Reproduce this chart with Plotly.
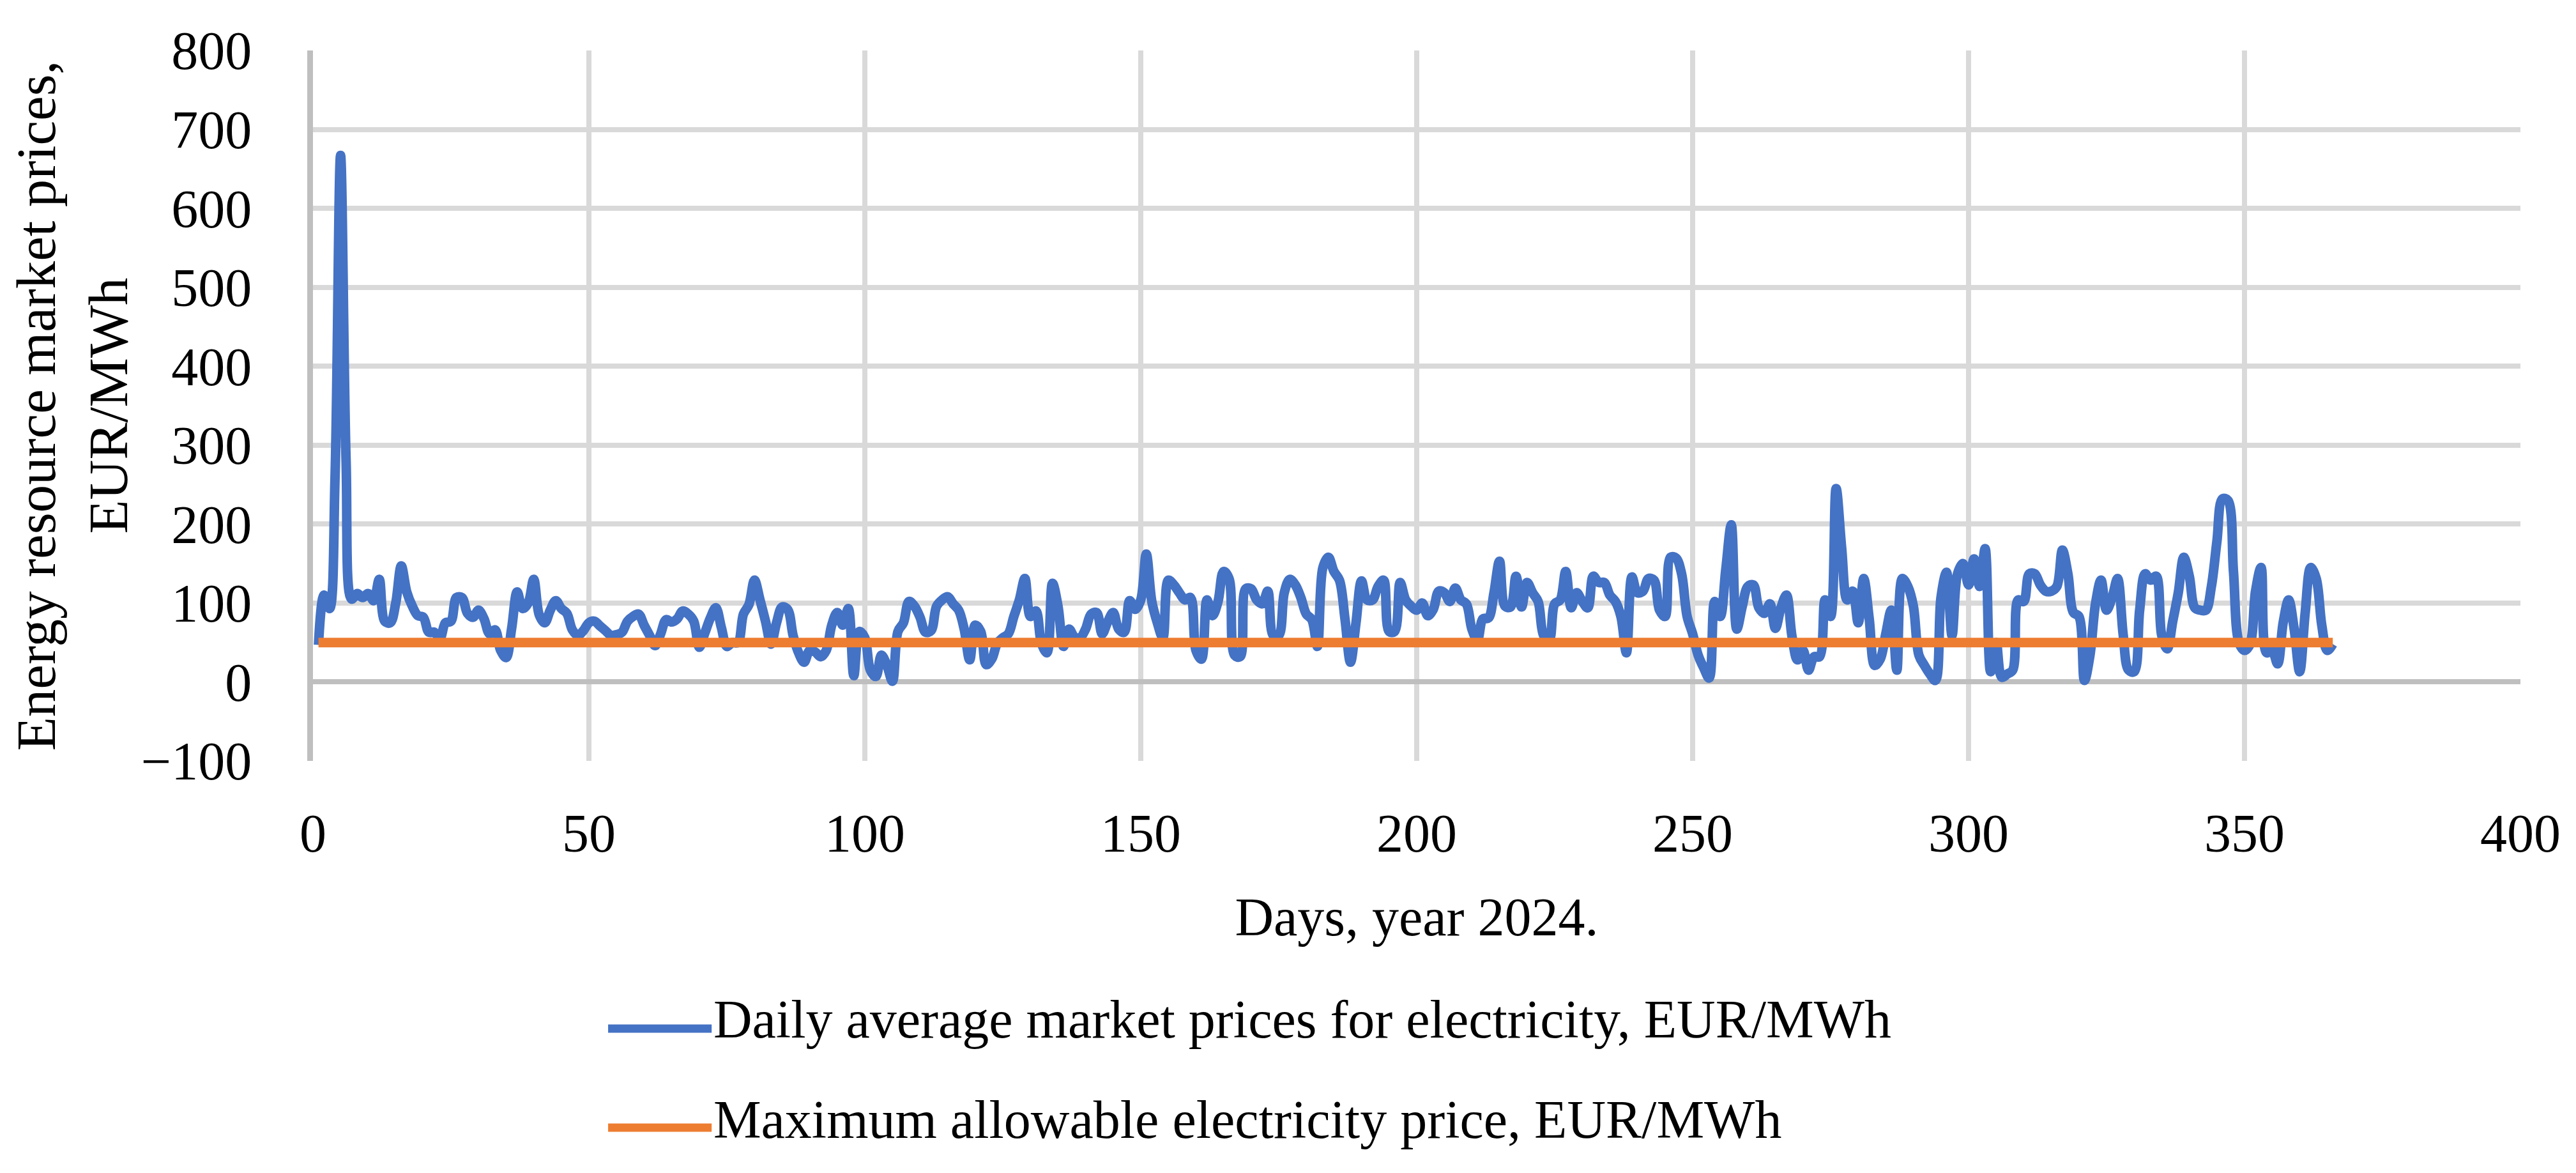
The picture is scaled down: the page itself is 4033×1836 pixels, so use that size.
import plotly.graph_objects as go

# ---------------- data ----------------
days = list(range(1, 367))

daily_prices = [
    47, 110, 93, 260, 667, 280, 105, 112, 107, 112,        # 1-10
    103, 130, 77, 75, 100, 147, 114, 96, 84, 82,           # 11-20
    63, 63, 55, 75, 77, 107, 107, 87, 82, 91,              # 21-30
    80, 61, 66, 40, 31, 68, 114, 93, 100, 130,             # 31-40
    85, 75, 91, 103, 93, 87, 66, 59, 65, 75,               # 41-50
    77, 71, 65, 59, 60, 63, 77, 83, 86, 72,                # 51-60
    59, 46, 61, 79, 76, 80, 90, 86, 77, 44,                # 61-70
    62, 81, 94, 69, 45, 50, 50, 86, 98, 129,               # 71-80
    104, 77, 48, 75, 95, 92, 59, 37, 25, 40,               # 81-90
    38, 32, 40, 72, 88, 72, 93, 8, 64, 56,                 # 91-100
    15, 7, 34, 21, 1, 64, 75, 102, 96, 82,                 # 101-110
    63, 65, 96, 104, 108, 99, 91, 67, 28, 72,              # 111-120
    64, 22, 29, 49, 56, 61, 83, 104, 131, 83,              # 121-130
    90, 49, 37, 125, 96, 45, 67, 57, 56, 67,               # 131-140
    86, 88, 61, 76, 88, 67, 63, 103, 92, 104,              # 141-150
    162, 102, 75, 56, 129, 123, 113, 104, 107, 40,         # 151-160
    29, 104, 84, 102, 140, 131, 34, 32, 118, 118,          # 161-170
    104, 99, 115, 59, 59, 113, 130, 123, 107, 86,          # 171-180
    79, 45, 145, 158, 140, 129, 80, 25, 75, 128,           # 181-190
    104, 104, 121, 129, 64, 64, 126, 104, 96, 91,          # 191-200
    100, 84, 92, 115, 113, 102, 119, 104, 99, 67,          # 201-210
    53, 80, 81, 113, 153, 96, 95, 134, 95, 126,            # 211-220
    113, 102, 59, 53, 99, 104, 140, 94, 113, 102,          # 221-230
    94, 134, 126, 126, 110, 102, 83, 37, 133, 113,         # 231-240
    115, 131, 129, 91, 83, 158, 157, 137, 83, 61,          # 241-250
    34, 18, 5, 102, 83, 142, 199, 67, 96, 121,             # 251-260
    123, 94, 87, 99, 68, 94, 110, 58, 28, 40,              # 261-270
    15, 32, 32, 104, 83, 245, 170, 104, 115, 75,           # 271-280
    131, 80, 21, 29, 61, 91, 15, 131, 121, 96,             # 281-290
    34, 21, 10, 2, 107, 139, 59, 137, 150, 123,            # 291-300
    156, 121, 169, 13, 50, 6, 10, 15, 104, 102,            # 301-310
    137, 137, 123, 115, 115, 121, 167, 137, 88, 83,        # 311-320
    2, 34, 99, 129, 91, 107, 131, 61, 15, 13,              # 321-330
    91, 137, 129, 134, 59, 42, 77, 113, 158, 134,          # 331-340
    94, 91, 91, 121, 178, 232, 230, 140, 50, 40,           # 341-350
    48, 115, 145, 37, 40, 23, 75, 104, 67, 13,             # 351-360
    88, 145, 131, 72, 40, 48,                              # 361-366
]

max_allowable_price = 50
max_price_series = [max_allowable_price for _ in days]

x_tick_values = [0, 50, 100, 150, 200, 250, 300, 350, 400]
y_tick_values = [-100, 0, 100, 200, 300, 400, 500, 600, 700, 800]

series_names = [
    "Daily average market prices for electricity, EUR/MWh",
    "Maximum allowable electricity price, EUR/MWh",
]
series_colors = ["#4472C4", "#ED7D31"]
x_title = "Days, year 2024."
y_title = "Energy resource market prices,<br>EUR/MWh"

# ---------------- figure ----------------
FONT = "Liberation Serif"
FS = 84
LW = 15

fig = go.Figure()
fig.add_trace(go.Scatter(
    x=days, y=daily_prices, mode="lines", name=series_names[0],
    line=dict(color=series_colors[0], width=LW, shape="spline", smoothing=1.0),
    showlegend=False,
))
fig.add_trace(go.Scatter(
    x=days, y=max_price_series, mode="lines", name=series_names[1],
    line=dict(color=series_colors[1], width=LW),
    showlegend=False,
))

# legend entries (text from the legend; thick keys drawn as shapes because
# plotly limits the width of legend line keys)
legend_key_y = [-0.3768, -0.5162]
for i, (name, col, ky) in enumerate(zip(series_names, series_colors, legend_key_y)):
    fig.add_trace(go.Scatter(
        x=[None], y=[None], mode="lines", name=name,
        line=dict(color=col, width=0), legendgroup=f"g{i}", showlegend=True,
    ))
    fig.add_shape(type="line", xref="paper", yref="paper",
                  x0=0.1337, x1=0.1806, y0=ky, y1=ky,
                  line=dict(color=col, width=13), layer="above")

fig.update_layout(
    width=4033, height=1836,
    margin=dict(l=482, r=95, t=71, b=653, autoexpand=False),
    paper_bgcolor="white", plot_bgcolor="white",
    font=dict(family=FONT, size=FS, color="black"),
    showlegend=True,
    legend=dict(
        orientation="v", x=0.1322, xanchor="left", y=-0.305, yanchor="top",
        traceorder="grouped", tracegroupgap=45, itemwidth=160,
        font=dict(family=FONT, size=FS, color="black"),
        bgcolor="rgba(0,0,0,0)",
    ),
)

fig.update_xaxes(
    range=[0, 400], tickmode="array", tickvals=x_tick_values,
    showgrid=True, gridcolor="#D9D9D9", gridwidth=8,
    zeroline=False, showline=False, ticks="",
    ticklabelstandoff=57,
    tickfont=dict(family=FONT, size=FS, color="black"),
    title=dict(text=x_title, standoff=55,
               font=dict(family=FONT, size=FS, color="black")),
    automargin=False, fixedrange=True,
)
fig.update_yaxes(
    range=[-100, 800], tickmode="array", tickvals=y_tick_values,
    showgrid=True, gridcolor="#D9D9D9", gridwidth=8,
    zeroline=True, zerolinecolor="#BFBFBF", zerolinewidth=8,
    showline=True, linecolor="#BFBFBF", linewidth=9,
    ticks="", ticklabelstandoff=70,
    tickfont=dict(family=FONT, size=FS, color="black"),
    title=dict(text=y_title, standoff=30,
               font=dict(family=FONT, size=87, color="black")),
    automargin=False, fixedrange=True,
)

fig.write_html("out.html")
